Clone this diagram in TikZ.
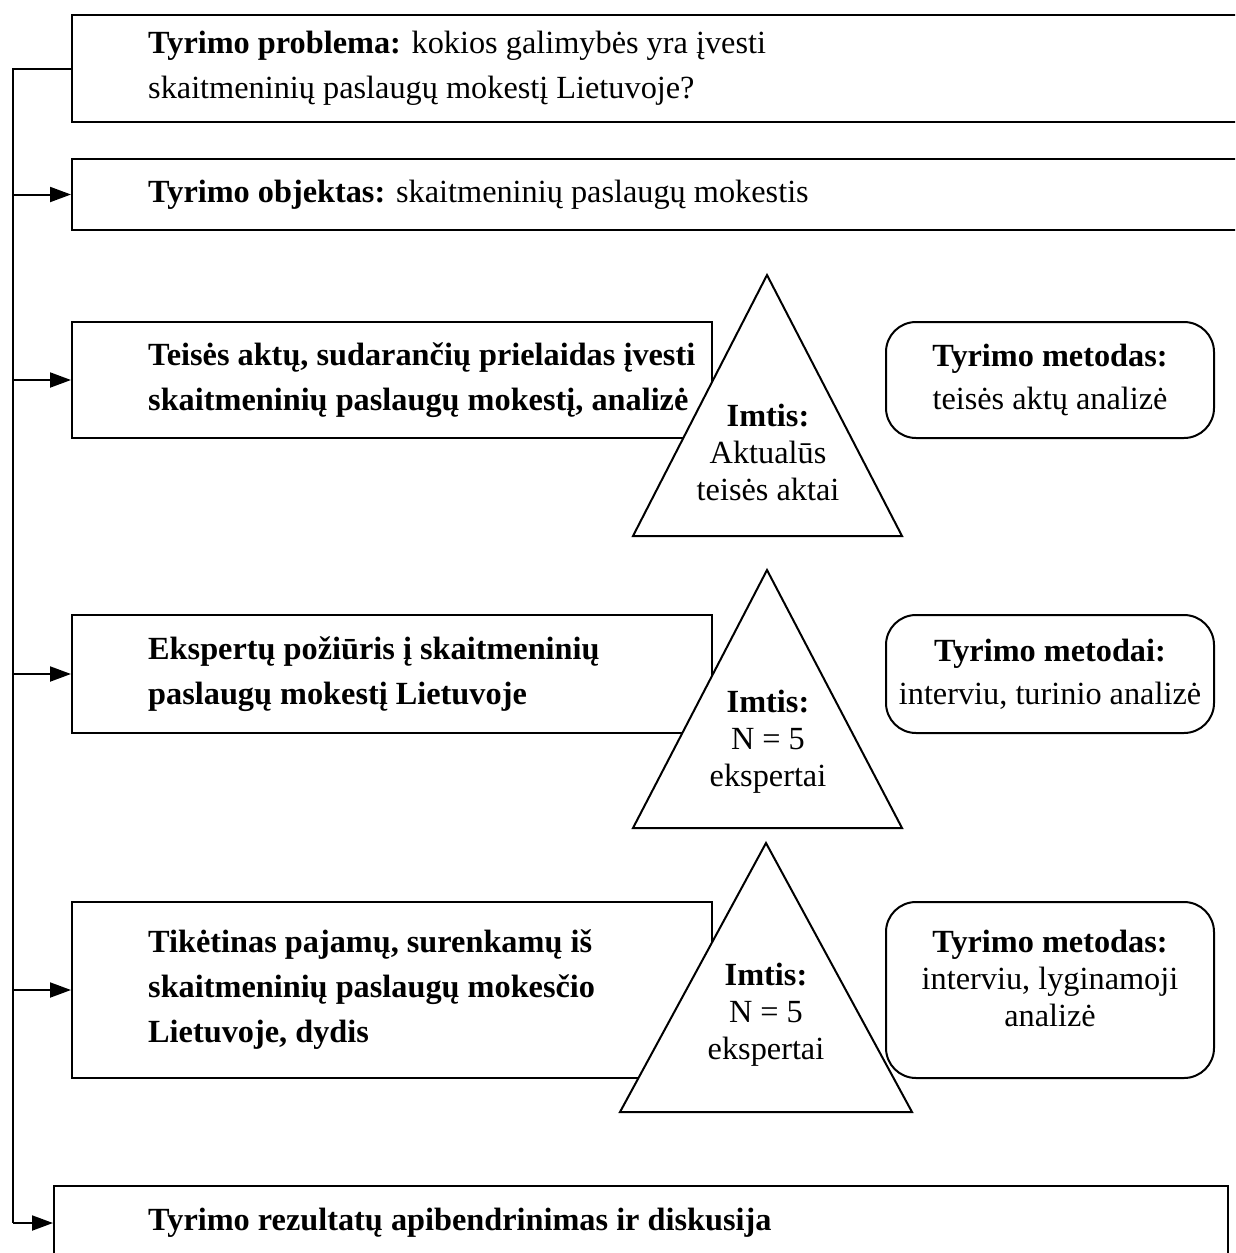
\documentclass[tikz,border=0pt]{standalone}
\usepackage{fontspec}
\setmainfont{Liberation Serif}
\usetikzlibrary{arrows.meta}

\begin{document}
\begin{tikzpicture}[
  x = 1pt, y = -1pt,
  box/.style = {draw, line width=2pt, anchor=north west, inner sep=0pt},
  method/.style = {draw, line width=2pt, rounded corners=30pt, anchor=north west, inner sep=0pt, align=center, font=\fontsize{32.3}{43}\selectfont},
  sample/.style = {draw, line width=2pt, fill=white},
  txt/.style = {inner sep=0pt, anchor=west, align=left, font=\fontsize{32.3}{45}\selectfont},
  txtb/.style = {txt, font=\bfseries\fontsize{32.3}{45}\selectfont},
  imtis/.style = {inner sep=0pt, align=center, font=\fontsize{32.3}{37}\selectfont},
  conn/.style = {line width=2pt},
  arrow/.style = {conn, -{Triangle[length=21pt, width=15pt]}},
  ]
  \useasboundingbox (0,0) rectangle (1235,1253);
  \clip (0,0) rectangle (1235,1253);

  % main boxes
  \node[box, minimum width=1240pt, minimum height=107pt] (problem) at (71,14) {};
  \node[box, minimum width=1240pt, minimum height=71pt] (object) at (71,158) {};
  \node[box, minimum width=640pt, minimum height=116pt] (law) at (71,321) {};
  \node[box, minimum width=640pt, minimum height=118pt] (expert) at (71,614) {};
  \node[box, minimum width=640pt, minimum height=176pt] (income) at (71,901) {};
  \node[box, minimum width=1174pt, minimum height=74pt] (summary) at (53,1185) {};

  % methods
  \node[method, minimum width=328pt, minimum height=116pt] (method1) at (885,321) {\textbf{Tyrimo metodas:}\\teisės aktų analizė};
  \node[method, minimum width=328pt, minimum height=118pt] (method2) at (885,614) {\textbf{Tyrimo metodai:}\\interviu, turinio analizė};
  \node[method, minimum width=328pt, minimum height=176pt] (method3) at (885,901) {};
  \node[imtis] (method3txt) at ([yshift=12pt]method3.center) {\textbf{Tyrimo metodas:}\\interviu, lyginamoji\\analizė};

  % samples
  \draw[sample] (767,275) -- (902,536) -- (633,536) -- cycle;
  \draw[sample] (767,570) -- (902,828) -- (633,828) -- cycle;
  \draw[sample] (766,843) -- (912,1112) -- (620,1112) -- cycle;
  \node[imtis] (sample1) at (768,452) {\textbf{Imtis:}\\Aktualūs\\teisės aktai};
  \node[imtis] (sample2) at (768,742) {\textbf{Imtis:}\\N = 5\\ekspertai};
  \node[imtis] (sample3) at (766,1015) {\textbf{Imtis:}\\N = 5\\ekspertai};

  % texts
  \node[txt] (problemtxt) at ([xshift=77pt]problem.west) {\textbf{Tyrimo problema:} kokios galimybės yra įvesti\\skaitmeninių paslaugų mokestį Lietuvoje?};
  \node[txt] (objecttxt) at ([xshift=77pt]object.west) {\textbf{Tyrimo objektas:} skaitmeninių paslaugų mokestis};
  \node[txtb] (lawtxt) at ([xshift=77pt]law.west) {Teisės aktų, sudarančių prielaidas įvesti\\skaitmeninių paslaugų mokestį, analizė};
  \node[txtb] (experttxt) at ([xshift=77pt]expert.west) {Ekspertų požiūris į skaitmeninių\\paslaugų mokestį Lietuvoje};
  \node[txtb] (incometxt) at ([xshift=77pt]income.west) {Tikėtinas pajamų, surenkamų iš\\skaitmeninių paslaugų mokesčio\\Lietuvoje, dydis};
  \node[txtb] (summarytxt) at ([xshift=95pt]summary.west) {Tyrimo rezultatų apibendrinimas ir diskusija};

  % connectors
  \coordinate (spine) at (13,0);
  \draw[conn] (problem.west) -- (problem.west -| spine) -- (summary.west -| spine);
  \foreach \n in {object, law, expert, income, summary}
    \draw[arrow] (\n.west -| spine) -- (\n.west);
\end{tikzpicture}
\end{document}
